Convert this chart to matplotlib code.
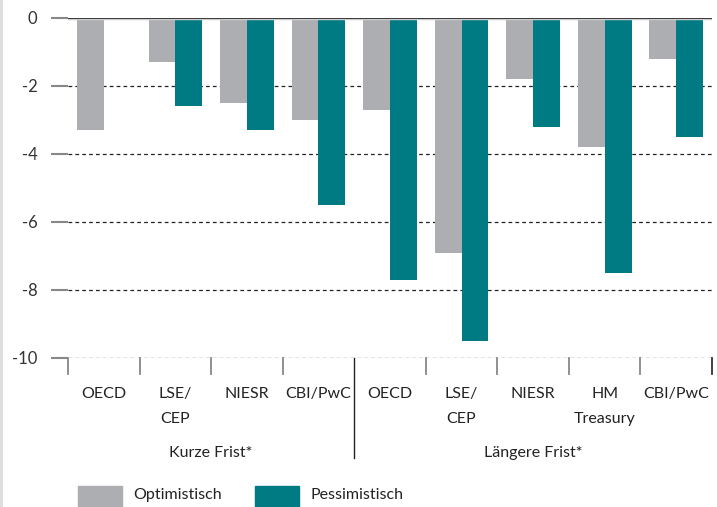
import numpy as np
import matplotlib
matplotlib.use("Agg")
import matplotlib.pyplot as plt
from matplotlib.patches import Rectangle
from matplotlib.lines import Line2D

plt.rcParams['font.family'] = ['Lato', 'DejaVu Sans']

categories = ["OECD", "LSE/\nCEP", "NIESR", "CBI/PwC", "OECD", "LSE/\nCEP", "NIESR", "HM\nTreasury", "CBI/PwC"]
groups = ["Kurze Frist*", "Längere Frist*"]
group_sizes = [4, 5]
optimistisch = [-3.3, -1.3, -2.5, -3.0, -2.7, -6.9, -1.8, -3.8, -1.2]
pessimistisch = [np.nan, -2.6, -3.3, -5.5, -7.7, -9.5, -3.2, -7.5, -3.5]
yticks = [0, -2, -4, -6, -8, -10]

gray = "#ADAEB2"
teal = "#007A83"

fig = plt.figure(figsize=(7.17, 5.07), dpi=100)
ax = fig.add_axes([68/717, 1-358/507, (712-68)/717, 340/507])

x = np.arange(len(categories))
w = 0.375
ax.bar(x - w/2, optimistisch, width=w, color=gray, label="Optimistisch", zorder=2)
ax.bar(x + w/2, pessimistisch, width=w, color=teal, label="Pessimistisch", zorder=2)

ax.set_xlim(-0.5, len(categories) - 0.5)
ax.set_ylim(-10, 0)
for s in ax.spines.values():
    s.set_visible(False)

for yv in yticks[1:]:
    ax.axhline(yv, color="#222222", lw=0.9, ls=(0, (3, 2.5)), zorder=1)
ax.axhline(0, color="#cccccc", lw=2.5, zorder=3)
ax.axhline(0, color="#222222", lw=1.2, zorder=4)

ax.set_yticks(yticks)
ax.set_yticklabels([str(v) for v in yticks], fontsize=12, color="#333333")
ax.tick_params(axis='y', direction='out', length=12, width=1.5, color="#888888", pad=10)
ax.set_xticks([])

trans = ax.get_xaxis_transform()
bounds = np.arange(len(categories) + 1) - 0.5
sep = group_sizes[0] - 0.5
for b in bounds:
    if b == sep:
        ax.add_line(Line2D([b, b], [0, -0.295], transform=trans, color="#222222", lw=1.0, clip_on=False))
    else:
        c = "#333333" if b == bounds[-1] else "#888888"
        ax.add_line(Line2D([b, b], [0, -0.047], transform=trans, color=c, lw=1.3, clip_on=False))

for xi, lab in zip(x, categories):
    ax.text(xi, -0.084, lab, transform=trans, ha="center", va="top", fontsize=11.5,
            color="#222222", linespacing=2.05)

start = 0
for g, n in zip(groups, group_sizes):
    center = start + (n - 1) / 2
    ax.text(center, -0.28, g, transform=trans, ha="center", va="center", fontsize=11.5, color="#222222")
    start += n

# legend
fig.patches.append(Rectangle((78/717, 0), 44/717, 21/507, transform=fig.transFigure,
                             color=gray, figure=fig))
fig.text(133/717, 1-495/507, "Optimistisch", ha="left", va="center", fontsize=11.5, color="#222222")
fig.patches.append(Rectangle((255/717, 0), 44/717, 21/507, transform=fig.transFigure,
                             color=teal, figure=fig))
fig.text(310/717, 1-495/507, "Pessimistisch", ha="left", va="center", fontsize=11.5, color="#222222")

fig.add_artist(Line2D([1/717, 1/717], [0, 1], transform=fig.transFigure, color="#dddddd", lw=2))

fig.savefig("out.png", dpi=100)
